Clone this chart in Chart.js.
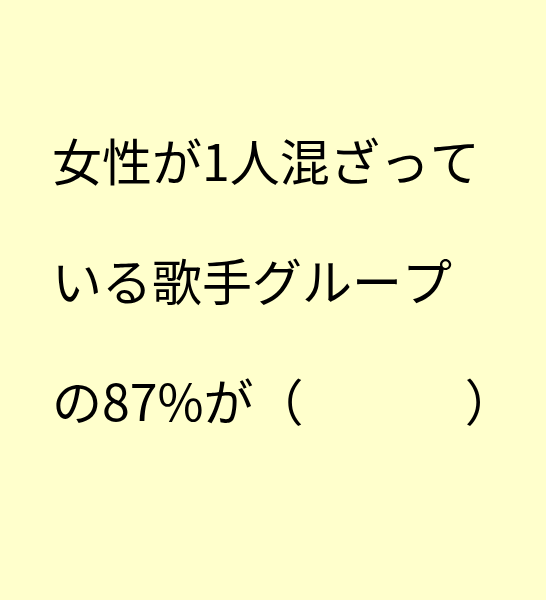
<!DOCTYPE html>
<html>
<head>
<meta charset="utf-8">
<script src="https://cdn.jsdelivr.net/npm/chart.js@4"></script>
<style>
  html, body { margin: 0; padding: 0; background: #ffffcc; }
  #wrap { width: 546px; height: 600px; }
</style>
</head>
<body>
<div id="wrap"><canvas id="chart" width="546" height="600"></canvas></div>
<script>
// text of the card, one entry per line
const lines = ['女性が1人混ざって', 'いる歌手グループ', 'の87%が（　　　 ）'];
const percent = [87];

const ctx = document.getElementById('chart').getContext('2d');
new Chart(ctx, {
    type: 'bar',
    data: {
        labels: [],
        datasets: [{ data: [], backgroundColor: 'transparent' }]
    },
    options: {
        responsive: false,
        animation: false,
        layout: { padding: { top: 102, left: 52, right: 0, bottom: 0 } },
        scales: { x: { display: false }, y: { display: false } },
        plugins: {
            legend: { display: false },
            tooltip: { enabled: false },
            title: {
                display: true,
                text: lines,
                align: 'start',
                color: '#000000',
                padding: 0,
                font: { family: '"Noto Sans CJK JP", sans-serif', size: 50, weight: 'normal', lineHeight: '120px' }
            }
        }
    }
});
</script>
</body>
</html>
